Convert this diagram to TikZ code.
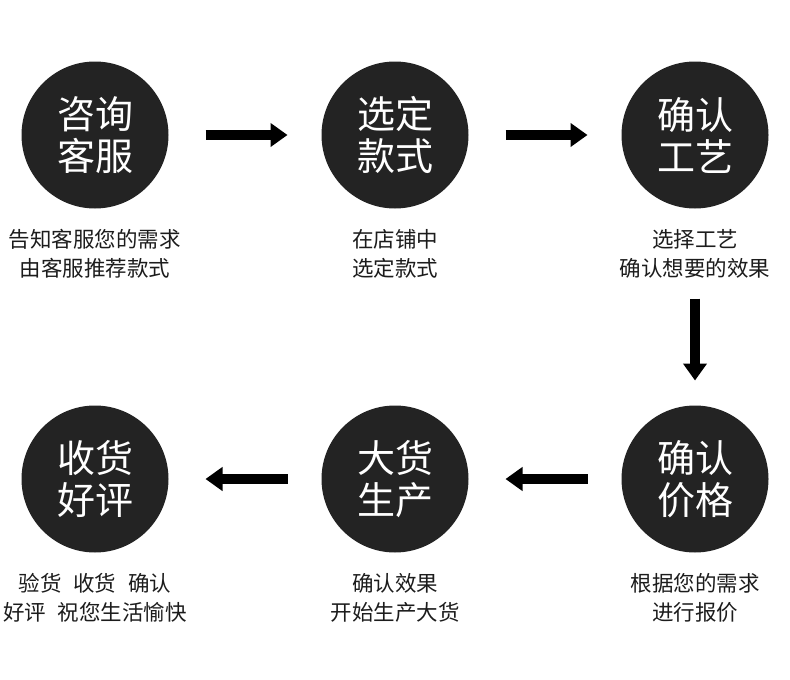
\documentclass[tikz,border=0pt]{standalone}
\usepackage{fontspec}
\setmainfont{Noto Sans CJK SC}
\usetikzlibrary{arrows.meta,positioning}
\definecolor{discdark}{HTML}{232323}
\definecolor{capgray}{HTML}{1C1C1C}
\newcommand{\capgap}{\hspace{0.55em}}

\begin{document}
\begin{tikzpicture}[x=1pt,y=-1pt,
node distance=197pt and 153pt,
disc/.style={circle,fill=discdark,text=white,align=center,inner sep=0pt,outer sep=0pt,
minimum size=147pt,font=\fontsize{38}{42}\selectfont},
capt/.style={align=center,inner sep=0pt,text=capgray,
font=\fontsize{21.5}{29}\selectfont},
arr/.style={-{Triangle[length=17pt,width=23pt]},line width=10pt,draw=black}
]
\useasboundingbox (0,0) rectangle (790,680);
\node[disc] (c1) at (95,135) {咨询\\客服};
\node[disc,right=of c1] (c2) {选定\\款式};
\node[disc,right=of c2] (c3) {确认\\工艺};
\node[disc,below=of c3] (c6) {确认\\价格};
\node[disc,left=of c6] (c5) {大货\\生产};
\node[disc,left=of c5] (c4) {收货\\好评};

\node[capt,below=21pt of c1] (t1) {告知客服您的需求\\由客服推荐款式};
\node[capt,below=21pt of c2] (t2) {在店铺中\\选定款式};
\node[capt,below=21pt of c3] (t3) {选择工艺\\确认想要的效果};
\node[capt,below=21pt of c6] (t6) {根据您的需求\\进行报价};
\node[capt,below=21pt of c5] (t5) {确认效果\\开始生产大货};
\node[capt,below=21pt of c4] (t4) {验货\capgap 收货\capgap 确认\\好评\capgap 祝您生活愉快};

% flow
\draw[arr,shorten <=37pt,shorten >=34pt] (c1) -- (c2);
\draw[arr,shorten <=37pt,shorten >=34pt] (c2) -- (c3);
\draw[arr,shorten <=90pt,shorten >=25pt] (c3) -- (c6);
\draw[arr,shorten <=34pt,shorten >=37pt] (c6) -- (c5);
\draw[arr,shorten <=34pt,shorten >=37pt] (c5) -- (c4);
\end{tikzpicture}
\end{document}
